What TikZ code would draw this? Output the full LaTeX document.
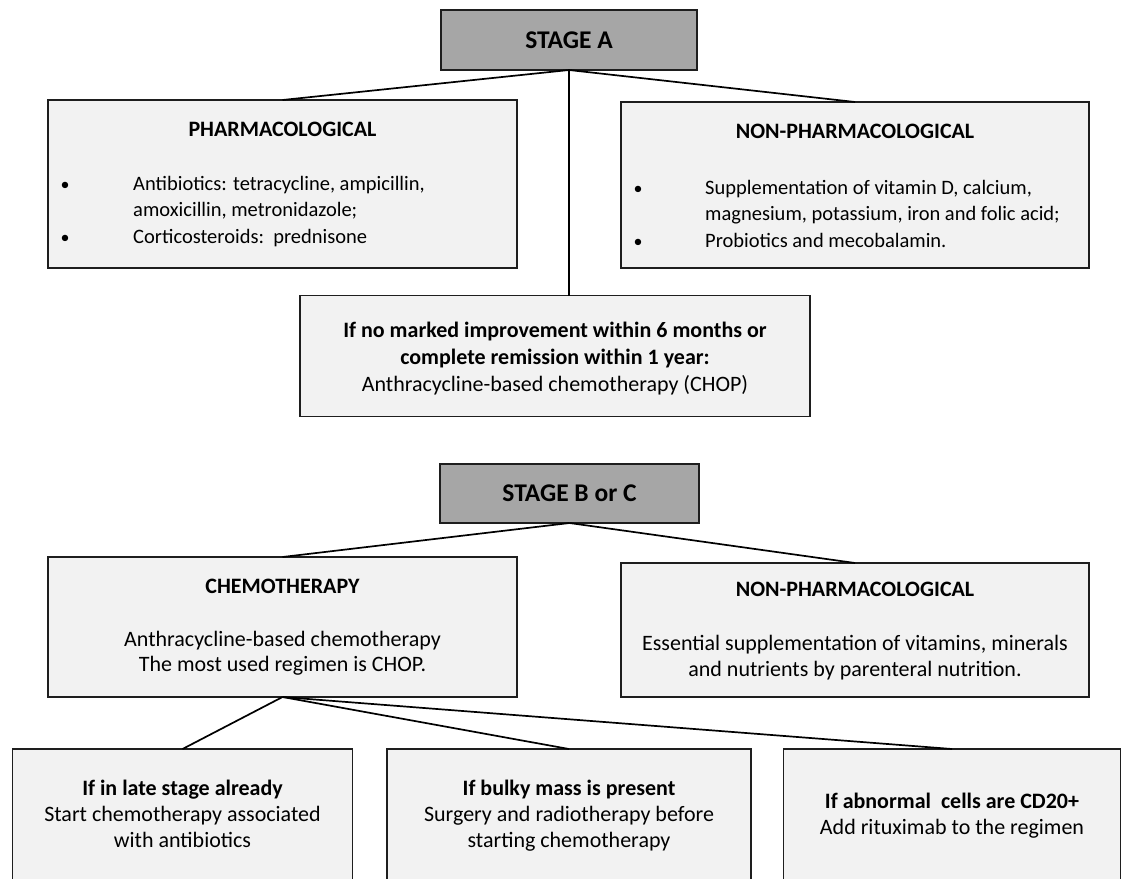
\documentclass[tikz,border=0pt]{standalone}
\usepackage{fontspec}
\setmainfont{Carlito}
\definecolor{boxfill}{RGB}{242,242,242}
\definecolor{stagefill}{RGB}{166,166,166}
\definecolor{edge}{RGB}{30,30,30}
\begin{document}
\begin{tikzpicture}[x=1pt,y=-1pt,
  box/.style={draw=edge, line width=1.7pt, fill=boxfill, inner sep=0pt, outer sep=0pt},
  stagebox/.style={draw=edge, line width=1.7pt, fill=stagefill, inner sep=0pt, outer sep=0pt,
     font=\fontsize{25.5}{30}\selectfont\bfseries},
  link/.style={draw=black, line width=1.7pt},
  txt/.style={inner sep=0pt, font=\fontsize{22}{26}\selectfont},
  ltxt/.style={inner sep=0pt, font=\fontsize{20.5}{26}\selectfont},
  bul/.style={inner sep=0pt, font=\fontsize{18}{26}\selectfont},
  head/.style={inner sep=0pt, font=\fontsize{22}{26}\selectfont\bfseries},
  ctxt/.style={inner sep=0pt, align=center, font=\fontsize{22}{26}\selectfont},
]
\useasboundingbox (0,0) rectangle (1123,878);

% Stage A
\node[stagebox, minimum width=256, minimum height=60] (stageA) at (569,40) {STAGE A};

% Pharmacological
\node[box, minimum width=469, minimum height=168] (pharm) at (282.5,184) {};
\node[head, anchor=base] (pharmH) at (282.5,136) {PHARMACOLOGICAL};
\node[bul, anchor=base] (pb1) at (65,190) {•};
\node[ltxt, anchor=base west] (pt1) at (133,190) {Antibiotics: tetracycline, ampicillin,};
\node[ltxt, anchor=base west] (pt2) at (133,216) {amoxicillin, metronidazole;};
\node[bul, anchor=base] (pb2) at (65,243) {•};
\node[ltxt, anchor=base west] (pt3) at (133,243) {Corticosteroids:\ \ prednisone};

% Non-pharmacological (A)
\node[box, minimum width=468, minimum height=166] (npA) at (855,185) {};
\node[head, anchor=base] (npAH) at (855,138) {NON-PHARMACOLOGICAL};
\node[bul, anchor=base] (nb1) at (638,194) {•};
\node[ltxt, anchor=base west] (nt1) at (705,194) {Supplementation of vitamin D, calcium,};
\node[ltxt, anchor=base west] (nt2) at (705,220) {magnesium, potassium, iron and folic acid;};
\node[bul, anchor=base] (nb2) at (638,247) {•};
\node[ltxt, anchor=base west] (nt3) at (705,247) {Probiotics and mecobalamin.};

% Improvement
\node[box, minimum width=510, minimum height=121] (impr) at (555,356) {};
\node[head, anchor=base] (im1) at (555,337) {If no marked improvement within 6 months or};
\node[head, anchor=base] (im2) at (555,364) {complete remission within 1 year:};
\node[txt, anchor=base] (im3) at (555,391) {Anthracycline-based chemotherapy (CHOP)};

% Stage B or C
\node[stagebox, minimum width=259, minimum height=59] (stageB) at (569.5,493.5) {STAGE B or C};

% Chemotherapy
\node[box, minimum width=469, minimum height=140] (chemo) at (282.5,627) {};
\node[head, anchor=base] (chH) at (282.5,593) {CHEMOTHERAPY};
\node[ctxt, anchor=base] (ch1) at (282.5,646) {Anthracycline-based chemotherapy};
\node[ctxt, anchor=base] (ch2) at (282.5,671) {The most used regimen is CHOP.};

% Non-pharmacological (B/C)
\node[box, minimum width=468, minimum height=134] (npB) at (855,630) {};
\node[head, anchor=base] (npBH) at (855,596) {NON-PHARMACOLOGICAL};
\node[ctxt, anchor=base] (nq1) at (855,650) {Essential supplementation of vitamins, minerals};
\node[ctxt, anchor=base] (nq2) at (855,676) {and nutrients by parenteral nutrition.};

% Bottom boxes
\node[box, minimum width=340, minimum height=160] (late) at (182.5,829) {};
\node[head, anchor=base] (lH) at (182.5,795) {If in late stage already};
\node[txt, anchor=base] (l1) at (182.5,821) {Start chemotherapy associated};
\node[txt, anchor=base] (l2) at (182.5,847) {with antibiotics};

\node[box, minimum width=364, minimum height=160] (bulky) at (569,829) {};
\node[head, anchor=base] (bH) at (569,795) {If bulky mass is present};
\node[txt, anchor=base] (b1) at (569,821) {Surgery and radiotherapy before};
\node[txt, anchor=base] (b2) at (569,847) {starting chemotherapy};

\node[box, minimum width=337, minimum height=160] (cd) at (952,829) {};
\node[head, anchor=base] (cH) at (952,808) {If abnormal\ \ cells are CD20+};
\node[txt, anchor=base] (c1) at (952,834) {Add rituximab to the regimen};

% Connectors
\draw[link] (stageA.south) -- (pharm.north);
\draw[link] (stageA.south) -- (npA.north);
\draw[link] (stageA.south) -- (stageA.south |- impr.north);
\draw[link] (stageB.south) -- (chemo.north);
\draw[link] (stageB.south) -- (npB.north);
\draw[link] (chemo.south) -- (late.north);
\draw[link] (chemo.south) -- (bulky.north);
\draw[link] (chemo.south) -- (cd.north);
\end{tikzpicture}
\end{document}
